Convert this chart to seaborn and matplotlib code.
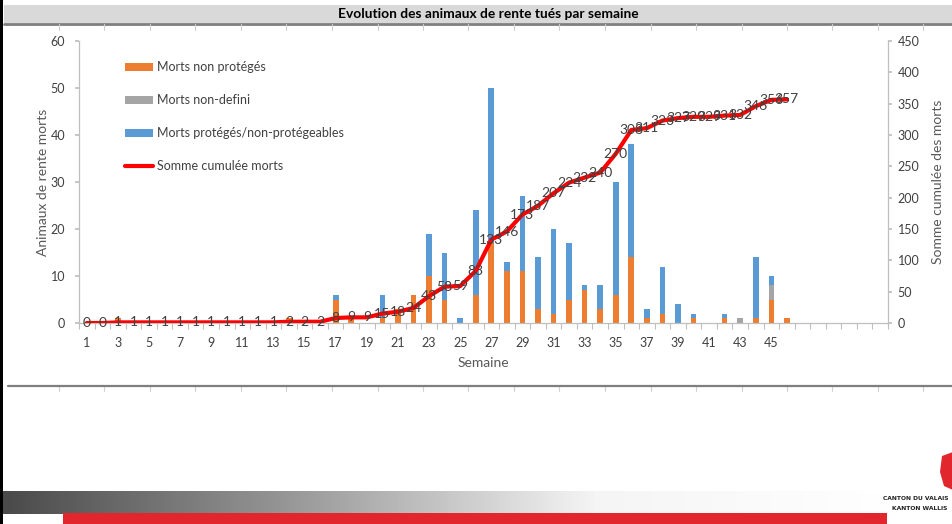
import numpy as np
import pandas as pd
import matplotlib
matplotlib.use("Agg")
import matplotlib.pyplot as plt
from matplotlib.patches import Rectangle, Patch, Polygon
from matplotlib.lines import Line2D
from matplotlib.colors import LinearSegmentedColormap
import seaborn as sns

# ---------------- data ----------------
weeks = list(range(1, 53))
morts_non_proteges = [0, 0, 1, 0, 0, 0, 0, 0, 0, 0, 0, 0, 0, 1, 0, 0, 5, 1, 0, 1,
                      3, 6, 10, 5, 0, 6, 17, 11, 11, 3, 2, 5, 7, 3, 6, 14, 1, 2, 0, 1,
                      0, 1, 0, 1, 5, 1, 0, 0, 0, 0, 0, 0]
morts_non_defini = [0, 0, 0, 0, 0, 0, 0, 0, 0, 0, 0, 0, 0, 0, 0, 0, 0, 0, 0, 0,
                    0, 0, 0, 0, 0, 0, 0, 0, 0, 0, 0, 0, 0, 0, 0, 0, 0, 0, 0, 0,
                    0, 0, 1, 0, 3, 0, 0, 0, 0, 0, 0, 0]
morts_proteges = [0, 0, 0, 0, 0, 0, 0, 0, 0, 0, 0, 0, 0, 0, 0, 0, 1, 0, 0, 5,
                  0, 0, 9, 10, 1, 18, 33, 2, 16, 11, 18, 12, 1, 5, 24, 24, 2, 10, 4, 1,
                  0, 1, 0, 13, 2, 0, 0, 0, 0, 0, 0, 0]
cum_weeks = list(range(1, 47))
somme_cumulee = [0, 0, 1, 1, 1, 1, 1, 1, 1, 1, 1, 1, 1, 2, 2, 2, 8, 9, 9, 15,
                 18, 24, 43, 58, 59, 83, 133, 146, 173, 187, 207, 224, 232, 240, 270, 308, 311, 323, 327, 329,
                 329, 331, 332, 346, 356, 357]
x_tick_labels = [str(w) for w in range(1, 46, 2)]

title = "Evolution des animaux de rente tués par semaine"
labels = ["Morts non protégés", "Morts non-defini", "Morts protégés/non-protégeables", "Somme cumulée morts"]

C_OR = "#ed7d31"
C_GR = "#a5a5a5"
C_BL = "#5b9bd5"
C_RED = "#ff0000"
C_TXT = "#595959"

sns.set_theme(style="white")
plt.rcParams["font.family"] = ["Lato", "DejaVu Sans"]

df = pd.DataFrame({
    "week": weeks,
    "orange": morts_non_proteges,
    "grey": morts_non_defini,
    "blue": morts_proteges,
})
df["lvl_orange"] = df["orange"]
df["lvl_grey"] = df["orange"] + df["grey"]
df["lvl_total"] = df["lvl_grey"] + df["blue"]
dfc = pd.DataFrame({"week": cum_weeks, "cum": somme_cumulee})

W, H = 953, 524
fig = plt.figure(figsize=(W / 100, H / 100), dpi=100)

def fx(px):
    return px / W

def fy(py):
    return 1 - py / H

# decorative frame ------------------------------------------------------
fig.patches.append(Rectangle((fx(4), fy(23)), fx(949), 18 / H, transform=fig.transFigure,
                             facecolor="#d9d9d9", edgecolor="none", zorder=0))
fig.lines.append(Line2D([fx(4), 1], [fy(23.5), fy(23.5)], transform=fig.transFigure,
                        color="#7f7f7f", lw=2))
fig.patches.append(Rectangle((0, 0), fx(3.5), 1, transform=fig.transFigure,
                             facecolor="black", edgecolor="none"))
fig.text(fx(488), fy(14), title, ha="center", va="center", fontsize=9.9,
         fontweight="bold", color="black")
for xp in np.arange(59, 953, 45.5):
    fig.lines.append(Line2D([fx(xp), fx(xp)], [fy(24), fy(30)], transform=fig.transFigure,
                            color="#d0d0d0", lw=0.8))
    fig.lines.append(Line2D([fx(xp), fx(xp)], [fy(386), fy(391)], transform=fig.transFigure,
                            color="#d0d0d0", lw=0.8))
fig.lines.append(Line2D([fx(8), 1], [fy(386), fy(386)], transform=fig.transFigure,
                        color="#7f7f7f", lw=1.6))

# bottom gradient + red band
axg = fig.add_axes([fx(3), fy(514), fx(890), 23 / H])
cmap = LinearSegmentedColormap.from_list("g", ["#4a4a4a", "#9a9a9a", "#f5f5f5", "#ffffff"])
axg.imshow(np.linspace(0, 1, 256)[None, :], aspect="auto", cmap=cmap, extent=[0, 1, 0, 1])
axg.axis("off")
fig.patches.append(Rectangle((fx(63), 0), fx(824), 11 / H, transform=fig.transFigure,
                             facecolor="#e2262d", edgecolor="none"))
fig.text(fx(949), fy(498), "CANTON DU VALAIS", ha="right", va="center", fontsize=4.3,
         fontweight="bold", color="#222222", family=["Liberation Sans Narrow", "DejaVu Sans"])
fig.text(fx(947), fy(508), "KANTON WALLIS", ha="right", va="center", fontsize=4.3,
         fontweight="bold", color="#222222", family=["Liberation Sans Narrow", "DejaVu Sans"])
fig.patches.append(Polygon([[fx(942), fy(456)], [fx(953), fy(452)], [fx(953), fy(490)],
                            [fx(944), fy(486)], [fx(940), fy(472)]],
                           closed=True, transform=fig.transFigure, facecolor="#e2262d",
                           edgecolor="none"))

# main chart ------------------------------------------------------------
ax = fig.add_axes([fx(79), fy(323), fx(888 - 79), (323 - 41) / H])
ax.set_facecolor("none")

bw = 0.36
sns.barplot(data=df, x="week", y="lvl_total", native_scale=True, width=bw,
            color=C_BL, errorbar=None, ax=ax, saturation=1, linewidth=0)
sns.barplot(data=df, x="week", y="lvl_grey", native_scale=True, width=bw,
            color=C_GR, errorbar=None, ax=ax, saturation=1, linewidth=0)
sns.barplot(data=df, x="week", y="lvl_orange", native_scale=True, width=bw,
            color=C_OR, errorbar=None, ax=ax, saturation=1, linewidth=0)

ax2 = ax.twinx()
sns.lineplot(data=dfc, x="week", y="cum", color=C_RED, lw=3, ax=ax2,
             solid_joinstyle="round", solid_capstyle="round")
for w, v in zip(cum_weeks, somme_cumulee):
    ax2.text(w, v, str(v), ha="center", va="center", fontsize=10, color="#404040")

ax.set_xlim(0.5, 52.5)
ax.set_ylim(0, 60)
ax2.set_ylim(0, 450)
ax.set_yticks(range(0, 61, 10))
ax2.set_yticks(range(0, 451, 50))
ax.set_xticks(range(1, 46, 2))
ax.set_xticklabels(x_tick_labels)
ax.set_xticks(np.arange(0.5, 53, 1), minor=True)

for a in (ax, ax2):
    for s in a.spines.values():
        s.set_color("#bfbfbf")
        s.set_linewidth(0.9)
    a.spines["top"].set_visible(False)
ax.spines["right"].set_visible(False)
ax2.spines["left"].set_visible(False)
ax2.spines["bottom"].set_visible(False)

ax.tick_params(axis="x", which="major", length=0, pad=10, labelsize=9, labelcolor="#404040")
ax.tick_params(axis="x", which="minor", length=4, color="#bfbfbf", width=0.8, bottom=True)
ax.tick_params(axis="y", length=3, color="#bfbfbf", pad=7, labelsize=9, labelcolor="#404040", left=True)
ax2.tick_params(axis="y", length=3, color="#bfbfbf", pad=4, labelsize=9, labelcolor="#404040", right=True)

ax.set_xlabel("Semaine", fontsize=10, color=C_TXT, labelpad=6)
ax.set_ylabel("Animaux de rente morts", fontsize=10, color=C_TXT, labelpad=1)
ax2.set_ylabel("Somme cumulée des morts", fontsize=10, color=C_TXT, labelpad=9)

handles = [Patch(facecolor=C_OR, edgecolor="none"),
           Patch(facecolor=C_GR, edgecolor="none"),
           Patch(facecolor=C_BL, edgecolor="none"),
           Line2D([0], [0], color=C_RED, lw=3)]
fig.legend(handles, labels, loc="upper left", bbox_to_anchor=(fx(125), fy(61)),
           bbox_transform=fig.transFigure, frameon=False, fontsize=9,
           labelspacing=1.68, handlelength=2.2, handleheight=0.6, handletextpad=0.35,
           borderpad=0, borderaxespad=0, labelcolor="#404040")

fig.savefig("out.png", dpi=100)
